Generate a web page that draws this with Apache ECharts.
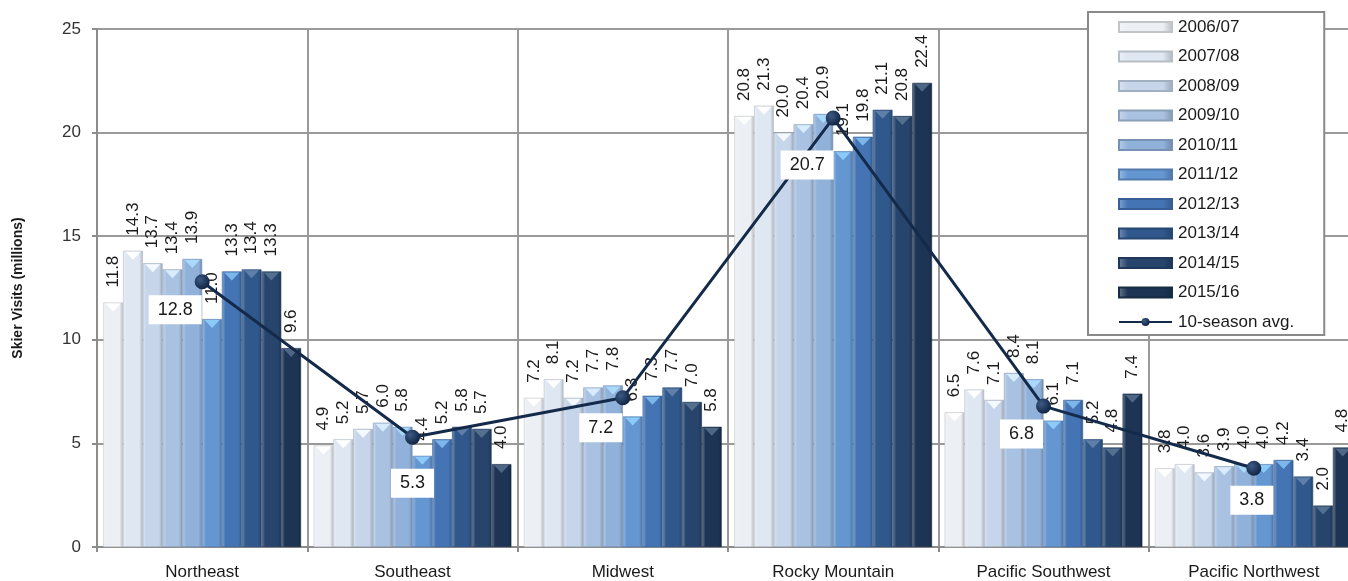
<!DOCTYPE html>
<html>
<head>
<meta charset="utf-8">
<title>Skier Visits by Region</title>
<script src="https://cdn.jsdelivr.net/npm/echarts@6/dist/echarts.min.js"></script>
<style>
  html, body { margin: 0; padding: 0; background: #ffffff; overflow: hidden; }
  #chart { width: 1348px; height: 581px; }
</style>
</head>
<body>
<div id="chart"></div>
<script>
// Regions on the category axis
const categories = ['Northeast', 'Southeast', 'Midwest', 'Rocky Mountain', 'Pacific Southwest', 'Pacific Northwest'];

// Seasons (one bar series each)
const seasons = ['2006/07', '2007/08', '2008/09', '2009/10', '2010/11', '2011/12', '2012/13', '2013/14', '2014/15', '2015/16'];

// Skier visits in millions, by region, for each season
const visits0607 = [11.8, 4.9, 7.2, 20.8, 6.5, 3.8];
const visits0708 = [14.3, 5.2, 8.1, 21.3, 7.6, 4.0];
const visits0809 = [13.7, 5.7, 7.2, 20.0, 7.1, 3.6];
const visits0910 = [13.4, 6.0, 7.7, 20.4, 8.4, 3.9];
const visits1011 = [13.9, 5.8, 7.8, 20.9, 8.1, 4.0];
const visits1112 = [11.0, 4.4, 6.3, 19.1, 6.1, 4.0];
const visits1213 = [13.3, 5.2, 7.3, 19.8, 7.1, 4.2];
const visits1314 = [13.4, 5.8, 7.7, 21.1, 5.2, 3.4];
const visits1415 = [13.3, 5.7, 7.0, 20.8, 4.8, 2.0];
const visits1516 = [9.6, 4.0, 5.8, 22.4, 7.4, 4.8];

// Ten-season average per region
const avgName = '10-season avg.';
const tenSeasonAvg = [12.8, 5.3, 7.2, 20.7, 6.8, 3.8];

// Value axis ticks
const yMin = 0, yMax = 25, yStep = 5;

const seasonValues = [visits0607, visits0708, visits0809, visits0910, visits1011,
                      visits1112, visits1213, visits1314, visits1415, visits1516];

// ---- styling ----
const FONT = '"Liberation Sans", Arial, sans-serif';
const baseColors = ['#eceff4', '#dfe7f2', '#c6d5ea', '#aac2e2', '#90b1da',
                    '#6496d2', '#4474b4', '#30588c', '#26446c', '#1d3454'];
const capColors  = ['#ffffff', '#ffffff', '#f4f8ff', '#d8ecfd', '#a9dafb',
                    '#8ccaf7', '#7db6ea', '#5f7fa8', '#54708f', '#4e6786'];
const avgLabelOffsets = [[-27, 28], [0, 46], [-22, 30], [-26, 47], [-22, 28], [-2, 32]];
const CAT_GAP = 0.06;

function shade(hex, f) {
  const n = parseInt(hex.slice(1), 16);
  let r = (n >> 16) & 255, g = (n >> 8) & 255, b = n & 255;
  const t = f < 0 ? 0 : 255, p = Math.abs(f);
  r = Math.round((t - r) * p + r);
  g = Math.round((t - g) * p + g);
  b = Math.round((t - b) * p + b);
  return '#' + ((1 << 24) + (r << 16) + (g << 8) + b).toString(16).slice(1);
}

function barFill(c) {
  return {
    type: 'linear', x: 0, y: 0, x2: 1, y2: 0,
    colorStops: [
      { offset: 0, color: shade(c, 0.35) },
      { offset: 0.18, color: c },
      { offset: 0.82, color: c },
      { offset: 1, color: shade(c, -0.22) }
    ]
  };
}

const barSeries = seasons.map((s, i) => ({
  name: s,
  type: 'bar',
  data: seasonValues[i],
  barGap: '0%',
  barCategoryGap: (CAT_GAP * 100) + '%',
  z: 2,
  itemStyle: {
    color: barFill(baseColors[i]),
    borderColor: shade(baseColors[i], -0.18),
    borderWidth: 0.6
  },
  label: {
    show: true,
    position: 'top',
    rotate: 90,
    align: 'left',
    verticalAlign: 'middle',
    distance: 15,
    fontFamily: FONT,
    fontSize: 17,
    color: '#1a1a1a',
    formatter: p => p.value.toFixed(1)
  }
}));

// Bevelled tops of the bars, positioned through the same category/value scales
const capData = [];
seasonValues.forEach((vals, s) => vals.forEach((v, c) => capData.push([c, s, v])));

const capSeries = {
  name: 'caps',
  type: 'custom',
  silent: true,
  z: 3,
  encode: { x: 0, y: 2 },
  data: capData,
  renderItem(params, api) {
    const c = api.value(0), s = api.value(1), v = api.value(2);
    const top = api.coord([c, v]);
    const band = api.size([1, 0])[0];
    const total = band * (1 - CAT_GAP);
    const bw = total / seasons.length;
    const x0 = top[0] - total / 2 + s * bw;
    const y = top[1] + 1;
    return {
      type: 'polygon',
      shape: { points: [[x0 + bw * 0.12, y], [x0 + bw * 0.88, y], [x0 + bw / 2, y + 8]] },
      style: { fill: capColors[s] }
    };
  }
};

const avgSeries = {
  name: avgName,
  type: 'line',
  z: 5,
  data: tenSeasonAvg.map((v, i) => ({
    value: v,
    label: { offset: avgLabelOffsets[i] }
  })),
  symbol: 'circle',
  symbolSize: 15,
  lineStyle: { color: '#142a4b', width: 3 },
  itemStyle: {
    color: {
      type: 'radial', x: 0.35, y: 0.35, r: 0.7,
      colorStops: [{ offset: 0, color: '#3d5b85' }, { offset: 1, color: '#0f2240' }]
    },
    borderWidth: 0
  },
  label: {
    show: true,
    position: 'inside',
    fontFamily: FONT,
    fontSize: 18,
    color: '#1a1a1a',
    backgroundColor: '#ffffff',
    padding: [6, 9, 5, 9],
    formatter: p => p.value.toFixed(1)
  }
};

const chart = echarts.init(document.getElementById('chart'), null, { renderer: 'canvas' });

chart.setOption({
  animation: false,
  backgroundColor: '#ffffff',
  textStyle: { fontFamily: FONT },
  grid: { left: 97, width: 1262, top: 29, bottom: 34, containLabel: false, outerBoundsMode: 'none' },
  legend: {
    orient: 'vertical',
    left: 1088,
    top: 12,
    data: seasons.map(s => ({ name: s, icon: 'rect' })).concat([{ name: avgName }]),
    itemWidth: 53,
    itemHeight: 10,
    itemGap: 11.5,
    padding: [6, 30, 4, 30],
    backgroundColor: '#ffffff',
    borderColor: '#8a8a8a',
    borderWidth: 2,
    textStyle: { fontFamily: FONT, fontSize: 17, color: '#1a1a1a', lineHeight: 18, padding: [0, 0, 0, 1] }
  },
  xAxis: {
    type: 'category',
    data: categories,
    axisLine: { lineStyle: { color: '#8c8c8c', width: 2 } },
    axisTick: { show: true, length: 5, lineStyle: { color: '#8c8c8c', width: 2 } },
    splitLine: { show: true, lineStyle: { color: '#9a9a9a', width: 2 } },
    axisLabel: { fontFamily: FONT, fontSize: 17, color: '#1a1a1a', margin: 17 }
  },
  yAxis: {
    type: 'value',
    min: yMin,
    max: yMax,
    interval: yStep,
    name: 'Skier Visits (millions)',
    nameLocation: 'middle',
    nameRotate: 90,
    nameGap: 72,
    nameTextStyle: { fontFamily: FONT, fontSize: 14, fontWeight: 'bold', color: '#1a1a1a' },
    axisLine: { show: true, lineStyle: { color: '#8c8c8c', width: 2 } },
    axisTick: { show: true, inside: false, length: 5, lineStyle: { color: '#8c8c8c', width: 2 } },
    splitLine: { show: true, lineStyle: { color: '#9a9a9a', width: 2 } },
    axisLabel: { fontFamily: FONT, fontSize: 17, color: '#333333', margin: 16 }
  },
  series: barSeries.concat([capSeries, avgSeries])
});
</script>
</body>
</html>
